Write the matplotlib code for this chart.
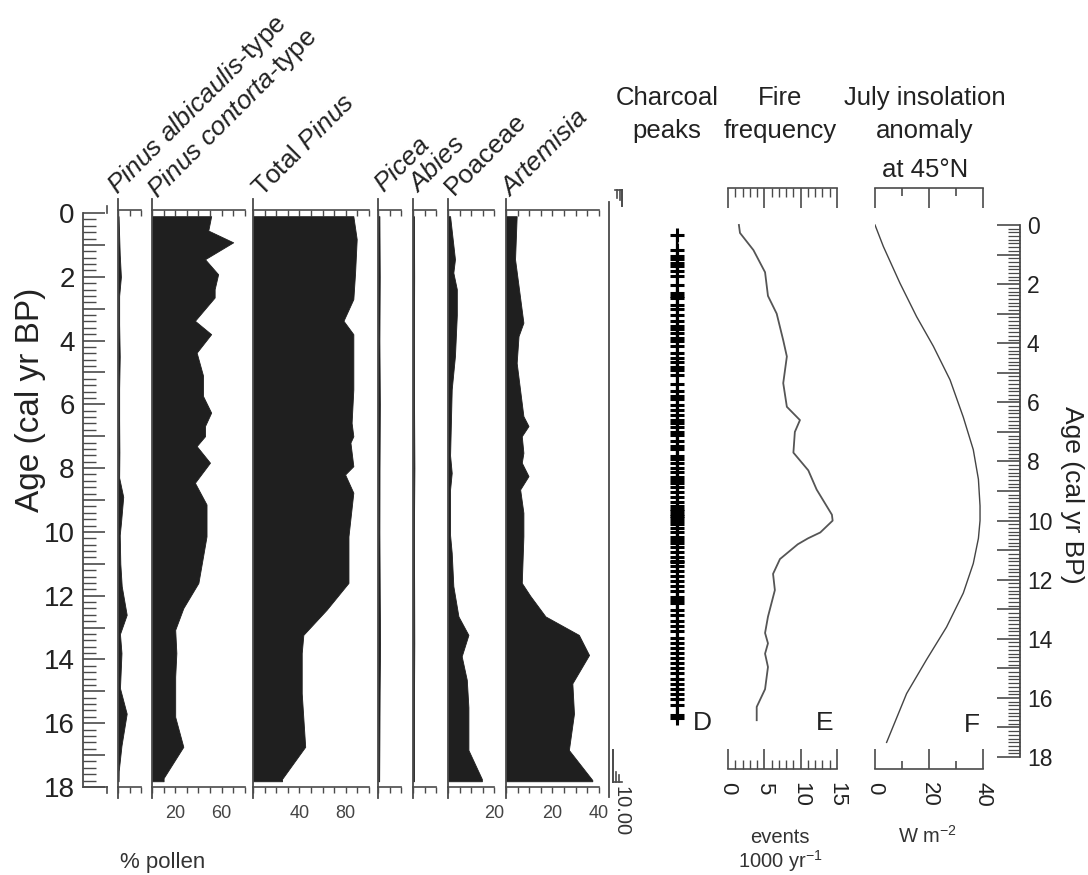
import numpy as np
import matplotlib
matplotlib.use("Agg")
import matplotlib.pyplot as plt
from matplotlib import font_manager

# ---------------- data (ages in cal kyr BP) ----------------
albicaulis_age = [0.1, 0.5, 1.3, 2.0, 2.6, 3.5, 4.5, 5.5, 6.5, 7.5, 8.3, 8.9, 9.7, 10.1, 11.0, 11.7, 12.6, 13.2, 13.8, 14.9, 15.7, 16.7, 17.5, 17.82]
albicaulis_pct = [0.5, 0.8, 1.5, 2.5, 1.0, 1.0, 1.5, 1.0, 1.0, 1.2, 1.0, 4.5, 2.6, 1.5, 2.0, 3.2, 7.5, 1.7, 3.0, 1.7, 7.5, 3.0, 0.6, 0.5]

contorta_age = [0.1, 0.55, 0.92, 1.45, 1.92, 2.39, 2.65, 3.38, 3.8, 4.38, 5.1, 5.74, 6.26, 6.68, 7.0, 7.31, 7.83, 8.46, 9.14, 10.14, 10.77, 11.6, 12.39, 13.07, 13.8, 14.54, 15.8, 16.74, 17.72, 17.82]
contorta_pct = [51, 48.5, 70, 45.7, 57, 54, 54, 37, 51, 38.5, 44, 44, 51, 45.7, 45.7, 38.5, 50, 37, 47, 47, 44, 40, 27, 20, 21, 20, 20, 27, 10, 10]

total_age = [0.1, 0.82, 1.87, 2.7, 3.38, 3.8, 5.53, 6.58, 7.0, 7.2, 7.94, 8.2, 8.77, 10.14, 11.6, 12.44, 13.23, 13.8, 15.06, 16.74, 17.75, 17.82]
total_pct = [86.5, 89.4, 88, 86.5, 78, 86.5, 86.5, 85, 86.5, 84, 86.5, 79.4, 86.5, 82.3, 82.3, 63.5, 43.4, 42, 42, 45, 25, 25]

picea_age = [0.1, 2.0, 4.0, 6.0, 8.0, 10.0, 12.0, 13.5, 15.0, 16.5, 17.82]
picea_pct = [1.2, 1.5, 1.2, 1.6, 1.3, 1.2, 1.5, 1.8, 1.4, 1.2, 1.0]

abies_age = [0.1, 2.0, 4.0, 6.0, 8.0, 10.0, 12.0, 13.5, 15.0, 16.5, 17.82]
abies_pct = [0.8, 1.0, 0.8, 0.9, 1.2, 0.8, 1.0, 1.1, 0.9, 0.8, 0.8]

poaceae_age = [0.1, 1.45, 1.87, 2.39, 3.2, 4.48, 5.53, 7.6, 8.15, 8.67, 10.1, 10.66, 11.7, 12.65, 13.23, 13.9, 14.64, 15.5, 16.84, 17.75, 17.82]
poaceae_pct = [0.9, 3.0, 2.3, 3.8, 3.8, 3.0, 1.6, 0.9, 1.6, 0.9, 0.9, 1.6, 2.3, 4.5, 8.8, 5.9, 8.1, 8.8, 8.8, 14.6, 14.6]

artemisia_age = [0.1, 1.45, 3.44, 3.86, 4.7, 6.37, 6.68, 7.0, 7.52, 7.83, 8.25, 8.67, 9.4, 10.14, 11.6, 12.0, 12.65, 13.23, 13.86, 14.75, 15.7, 16.84, 17.78, 17.82]
artemisia_pct = [4.6, 3.9, 7.5, 5.4, 4.6, 7.5, 9.7, 6.8, 7.5, 6.8, 9.7, 6.1, 7.5, 7.5, 6.8, 10.4, 17, 31.4, 35.8, 28.6, 29.3, 27.1, 37.2, 37.2]

charcoal_peak_age = [0.34, 0.86, 1.04, 1.15, 1.27, 1.38, 1.56, 1.73, 2.02, 2.31, 2.39, 2.48, 2.72, 2.83,
                     3.06, 3.24, 3.41, 3.53, 3.64, 3.82, 3.93, 4.11, 4.34, 4.51, 4.63, 4.80, 4.92, 5.09,
                     5.38, 5.61, 5.79, 5.90, 6.08, 6.25, 6.42, 6.60, 6.71, 6.83, 7.00, 7.12, 7.29, 7.47,
                     7.58, 7.82, 7.93, 8.05, 8.22, 8.34, 8.51, 8.63, 8.74, 8.86, 9.03, 9.21, 9.38, 9.50,
                     9.61, 9.67, 9.79, 9.84, 9.90, 10.02, 10.13, 10.25, 10.37, 10.54, 10.66, 10.77, 10.89,
                     11.06, 11.23, 11.35, 11.41, 11.52, 11.70, 11.87, 12.05, 12.22, 12.39, 12.57, 12.68,
                     12.80, 13.03, 13.20, 13.38, 13.55, 13.73, 13.96, 14.13, 14.31, 14.48, 14.65, 14.83,
                     15.00, 15.17, 15.35, 15.52, 15.70, 15.87, 16.04, 16.22, 16.56, 16.68]

fire_age = [0.0, 0.27, 0.85, 1.6, 2.4, 3.0, 3.9, 4.45, 5.35, 6.15, 6.6, 7.0, 7.7, 8.3, 8.95, 9.8, 10.0, 10.4, 10.6, 10.8, 11.3, 11.8, 12.35, 13.25, 13.8, 14.15, 14.5, 14.95, 15.7, 16.3, 16.75]
fire_freq = [1.5, 1.65, 3.5, 5.1, 5.5, 6.7, 7.6, 8.1, 7.6, 8.1, 9.9, 9.2, 9.0, 11.05, 12.2, 14.3, 14.4, 12.7, 11.0, 9.6, 7.15, 6.2, 6.45, 5.5, 5.1, 5.5, 5.1, 5.5, 5.1, 3.95, 3.95]

insol_age = [0.0, 0.73, 1.97, 3.1, 4.1, 5.24, 6.5, 7.6, 8.6, 9.5, 10.0, 10.6, 11.45, 12.45, 13.6, 14.7, 15.85, 17.5]
insol_anom = [0.0, 3.1, 9.25, 15.4, 21.6, 27.8, 32.7, 36.4, 38.3, 38.9, 38.9, 38.3, 36.4, 32.7, 26.5, 19.1, 11.7, 4.3]

# ---------------- fonts ----------------
_names = {f.name for f in font_manager.fontManager.ttflist}
FONT = 'Liberation Sans' if 'Liberation Sans' in _names else 'DejaVu Sans'
plt.rcParams['font.family'] = [FONT, 'DejaVu Sans']
plt.rcParams['mathtext.fontset'] = 'custom'
plt.rcParams['mathtext.rm'] = FONT
plt.rcParams['mathtext.it'] = FONT + ':italic'

W, H = 1088, 875
fig = plt.figure(figsize=(W / 100, H / 100), dpi=100)
deco = fig.add_axes([0, 0, 1, 1])
deco.set_xlim(0, W)
deco.set_ylim(H, 0)
deco.axis('off')


def px_axes(x0, x1, y0, y1):
    return fig.add_axes([x0 / W, 1 - y1 / H, (x1 - x0) / W, (y1 - y0) / H])


SP = '#4a4a4a'
FILL = '#1f1f1f'
TXT = '#222222'

# ---------------- pollen panels ----------------
POL_TOP, POL_BOT = 210, 787
P_YLIM = (18, -0.094)

panels = [
    (118, 20, 10, 1.16, albicaulis_age, albicaulis_pct, {}, r'$\mathit{Pinus\ albicaulis}$-type', (117, 195)),
    (152, 80, 10, 1.16, contorta_age, contorta_pct, {20: '20', 60: '60'}, r'$\mathit{Pinus\ contorta}$-type', (157, 199)),
    (253, 100, 10, 1.16, total_age, total_pct, {40: '40', 80: '80'}, r'Total $\mathit{Pinus}$', (262, 198)),
    (378, 20, 10, 1.16, picea_age, picea_pct, {}, r'$\mathit{Picea}$', (384, 194)),
    (413, 20, 10, 1.16, abies_age, abies_pct, {}, r'$\mathit{Abies}$', (418, 194)),
    (448, 20, 5, 2.32, poaceae_age, poaceae_pct, {20: '20'}, 'Poaceae', (454, 196)),
    (506, 40, 5, 2.32, artemisia_age, artemisia_pct, {20: '20', 40: '40'}, r'$\mathit{Artemisia}$', (510, 198)),
]

for x0, xmax, step, pxper, ages, vals, labs, name, lpos in panels:
    x1 = x0 + xmax * pxper
    ax = px_axes(x0, x1, POL_TOP, POL_BOT)
    ax.set_xlim(0, xmax)
    ax.set_ylim(*P_YLIM)
    ax.fill_betweenx(ages, 0, vals, facecolor=FILL, edgecolor=FILL, lw=0.6)
    for s in ('left', 'right', 'top'):
        ax.spines[s].set_visible(False)
    ax.spines['bottom'].set_color(SP)
    ax.spines['bottom'].set_linewidth(1.2)
    ticks = list(np.arange(0, xmax + 1e-9, step))
    ax.set_xticks(ticks)
    ax.set_xticklabels([labs.get(int(round(t)), '') for t in ticks])
    ax.tick_params(axis='x', direction='out', length=4, width=1, color=SP,
                   labelsize=13, labelcolor='#444444', pad=9)
    ax.set_yticks([])
    top = ax.secondary_xaxis('top')
    top.set_xticks(ticks)
    top.tick_params(axis='x', direction='in', length=4, width=1, color=SP,
                    labeltop=False, labelbottom=False)
    for sp in top.spines.values():
        sp.set_color(SP)
        sp.set_linewidth(1.2)
    ax.plot([0, 0], [-0.45, 18.35], color=SP, lw=1.3, clip_on=False)
    ax.patch.set_visible(False)
    deco.text(lpos[0], lpos[1], name, rotation=45, rotation_mode='anchor', ha='left',
              va='baseline', fontsize=19, color=TXT)

# left age axis
agel = px_axes(83, 110, POL_TOP, POL_BOT)
agel.set_xlim(0, 1)
agel.set_ylim(*P_YLIM)
for s in ('right', 'top', 'bottom'):
    agel.spines[s].set_visible(False)
agel.spines['left'].set_bounds(0, 18)
agel.spines['left'].set_color(SP)
agel.spines['left'].set_linewidth(1.3)
agel.set_xticks([])
agel.set_yticks(range(0, 19))
agel.set_yticklabels([str(v) if v % 2 == 0 else '' for v in range(0, 19)])
agel.set_yticks(np.arange(0, 18.01, 0.2), minor=True)
agel.tick_params(axis='y', which='major', direction='in', length=16, width=1.2, color=SP,
                 labelsize=20, labelcolor=TXT, pad=6)
agel.tick_params(axis='y', which='minor', direction='in', length=9, width=1, color=SP)
agel.patch.set_visible(False)
deco.plot([107, 107], [206, 213], color=SP, lw=1.2)
deco.plot([107, 107], [787, 793], color=SP, lw=1.2)
deco.plot([83, 107], [787, 787], color=SP, lw=1.2)

# right edge of pollen block with small scale marks
deco.plot([609, 609], [202, 797], color=SP, lw=1.3)
deco.plot([615, 622], [190, 190], color=SP, lw=1.2)
deco.plot([622, 622], [190, 206], color=SP, lw=1.4)
deco.plot([617, 617], [190, 198], color=SP, lw=1.2)
deco.plot([619.5, 619.5], [190, 200], color=SP, lw=1.2)
deco.plot([613, 613], [750, 782], color=SP, lw=1.4)
deco.plot([613, 622], [782, 782], color=SP, lw=1.2)
deco.plot([616, 616], [772, 782], color=SP, lw=1.2)
deco.plot([619, 619], [775, 782], color=SP, lw=1.2)
deco.text(621, 786, '10.00', rotation=270, ha='center', va='top', fontsize=14.5, color='#333333')

# ---------------- right-hand panels ----------------
R_TOP, R_BOT = 188, 769
R_YLIM = (18.40, -1.25)

# D: charcoal peaks
d = px_axes(655, 699, R_TOP, R_BOT)
d.set_xlim(0, 1)
d.set_ylim(*R_YLIM)
d.axis('off')
d.plot([0.5, 0.5], [charcoal_peak_age[0], charcoal_peak_age[-1]], color='black', lw=1.6)
d.plot([0.5] * len(charcoal_peak_age), charcoal_peak_age, ls='none', marker='+', ms=10,
       mew=2.2, color='black')

# E: fire frequency
e = px_axes(728, 837, R_TOP, R_BOT)
e.set_xlim(0, 15)
e.set_ylim(*R_YLIM)
e.plot(fire_freq, fire_age, color='#555555', lw=1.3)
for s in ('left', 'right'):
    e.spines[s].set_visible(False)
for s in ('top', 'bottom'):
    e.spines[s].set_color(SP)
    e.spines[s].set_linewidth(1.2)
e.set_yticks([])
e.set_xticks([0, 5, 10, 15])
e.set_xticks(range(16), minor=True)
e.tick_params(axis='x', which='major', direction='in', length=14.4, width=1.2, color=SP,
              top=True, bottom=True, labeltop=False, labelsize=16, labelcolor=TXT,
              labelrotation=270, pad=9)
e.tick_params(axis='x', which='minor', direction='in', length=6.5, width=1, color=SP,
              top=True, bottom=True)
e.patch.set_visible(False)

# F: insolation
f = px_axes(875, 983, R_TOP, R_BOT)
f.set_xlim(0, 40)
f.set_ylim(*R_YLIM)
f.plot(insol_anom, insol_age, color='#444444', lw=1.0)
for s in ('left', 'right'):
    f.spines[s].set_visible(False)
for s in ('top', 'bottom'):
    f.spines[s].set_color(SP)
    f.spines[s].set_linewidth(1.2)
f.set_yticks([])
f.set_xticks([0, 20, 40])
f.set_xticks([10, 30], minor=True)
f.tick_params(axis='x', which='major', direction='in', length=14.4, width=1.2, color=SP,
              top=True, bottom=True, labeltop=False, labelsize=16, labelcolor=TXT,
              labelrotation=270, pad=9)
f.tick_params(axis='x', which='minor', direction='in', length=6, width=1.2, color=SP,
              top=True, bottom=True)
f.patch.set_visible(False)

# right age axis
ager = px_axes(990, 1020, 225, 757)
ager.set_xlim(0, 1)
ager.set_ylim(18, 0)
for s in ('left', 'top', 'bottom'):
    ager.spines[s].set_visible(False)
ager.spines['right'].set_color(SP)
ager.spines['right'].set_linewidth(1.3)
ager.set_xticks([])
ager.yaxis.tick_right()
ager.set_yticks(range(0, 19))
ager.set_yticklabels([str(v) if v % 2 == 0 else '' for v in range(0, 19)])
ager.set_yticks(np.arange(0, 18.01, 0.125), minor=True)
ager.tick_params(axis='y', which='major', direction='in', length=16.5, width=1.2, color=SP,
                 labelsize=16.5, labelcolor=TXT, pad=5)
ager.tick_params(axis='y', which='minor', direction='in', length=9, width=0.9, color=SP)
ager.patch.set_visible(False)

# ---------------- texts ----------------
TS = 18.5
deco.text(667, 105, 'Charcoal', ha='center', va='baseline', fontsize=TS, color=TXT)
deco.text(667, 138, 'peaks', ha='center', va='baseline', fontsize=TS, color=TXT)
deco.text(780, 105, 'Fire', ha='center', va='baseline', fontsize=TS, color=TXT)
deco.text(780, 138, 'frequency', ha='center', va='baseline', fontsize=TS, color=TXT)
deco.text(925, 105, 'July insolation', ha='center', va='baseline', fontsize=TS, color=TXT)
deco.text(925, 138, 'anomaly', ha='center', va='baseline', fontsize=TS, color=TXT)
deco.text(925, 177, 'at 45°N', ha='center', va='baseline', fontsize=TS, color=TXT)

deco.text(693, 730, 'D', ha='left', va='baseline', fontsize=19, color=TXT)
deco.text(816, 730, 'E', ha='left', va='baseline', fontsize=19, color=TXT)
deco.text(964, 732, 'F', ha='left', va='baseline', fontsize=19, color=TXT)

deco.text(163, 868, '% pollen', ha='center', va='baseline', fontsize=16, color='#333333')
deco.text(780, 843, 'events', ha='center', va='baseline', fontsize=14.5, color='#333333')
deco.text(780, 868, r'1000 yr$^{-1}$', ha='center', va='baseline', fontsize=14.5, color='#333333')
deco.text(927, 843, r'W m$^{-2}$', ha='center', va='baseline', fontsize=14.5, color='#333333')

deco.text(31, 400, 'Age (cal yr BP)', rotation=90, ha='center', va='center', fontsize=24,
          color=TXT)
deco.text(1072, 495, 'Age (cal yr BP)', rotation=270, ha='center', va='center', fontsize=19,
          color=TXT)

fig.savefig('out.png', dpi=100)
